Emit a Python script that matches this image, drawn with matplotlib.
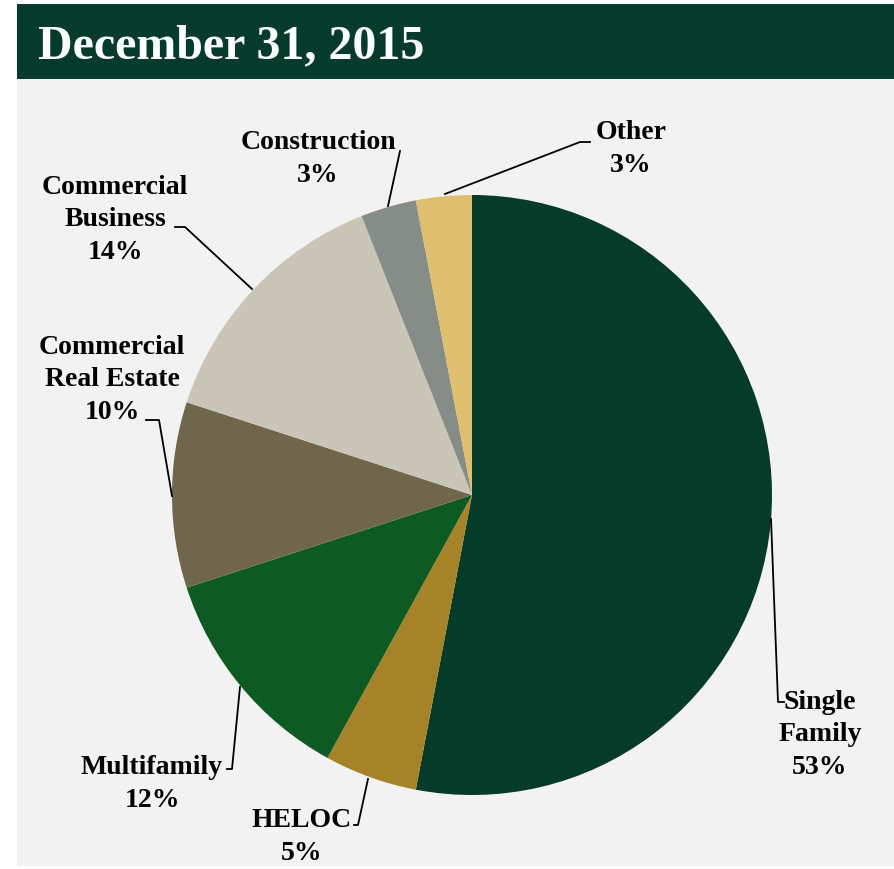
import matplotlib
matplotlib.use("Agg")
import matplotlib.pyplot as plt
from matplotlib.patches import Rectangle

title = "December 31, 2015"
categories = ["Single Family", "HELOC", "Multifamily", "Commercial Real Estate",
              "Commercial Business", "Construction", "Other"]
values = [53, 5, 12, 10, 14, 3, 3]
label_texts = ["Single\nFamily\n53%", "HELOC\n5%", "Multifamily\n12%",
               "Commercial\nReal Estate\n10%", "Commercial\nBusiness\n14%",
               "Construction\n3%", "Other\n3%"]
colors = ["#053b29", "#a78327", "#0e5a23", "#6f664b", "#c9c6b8", "#858d86", "#dfbf6d"]

W, H = 894, 870
fig = plt.figure(figsize=(W / 100, H / 100), dpi=100)
fig.patch.set_facecolor("white")
ax = fig.add_axes([0, 0, 1, 1])

def Y(y):
    return H - y

cx, cy, r = 472, Y(496), 300
ax.pie(values, colors=colors, startangle=90, counterclock=False,
       center=(cx, cy), radius=r, frame=True,
       wedgeprops=dict(linewidth=0, zorder=2))
ax.set_xlim(0, W)
ax.set_ylim(0, H)
ax.set_aspect("equal")
ax.axis("off")

# background panels
ax.add_patch(Rectangle((17, Y(867)), W - 17, 867 - 80, facecolor="#f2f2f2", edgecolor="none", zorder=0))
ax.add_patch(Rectangle((17, Y(80)), W - 17, 75, facecolor="#053b2a", edgecolor="none", zorder=0))
ax.text(38, Y(46), title, color="white", fontsize=34.5, fontweight="bold",
        family="Liberation Serif", va="center", ha="left")

font = dict(fontsize=20, fontweight="bold", family="Liberation Serif",
            ha="center", va="center", linespacing=1.42)

# label positions (centre of text block) and leader lines, in pixel coords
layout = [
    ((820, 735), [(771, 520), (778, 703), (784, 703)]),
    ((302, 837), [(368, 780), (358, 826), (354, 826)]),
    ((152, 784), [(240, 688), (232, 770), (227, 770)]),
    ((112, 380), [(172, 497), (159, 421), (146, 421)]),
    ((115, 220), [(252, 290), (185, 228), (175, 228)]),
    ((318, 159), [(388, 207), (400, 152), (400, 152)]),
    ((631, 149), [(445, 195), (580, 143), (590, 143)]),
]
for txt, ((tx, ty), pts) in zip(label_texts, layout):
    ax.text(tx, Y(ty), txt, **font)
    ax.plot([p[0] for p in pts], [Y(p[1]) for p in pts], color="black", lw=1.3)

fig.savefig("out.png", dpi=100, facecolor=fig.get_facecolor())
